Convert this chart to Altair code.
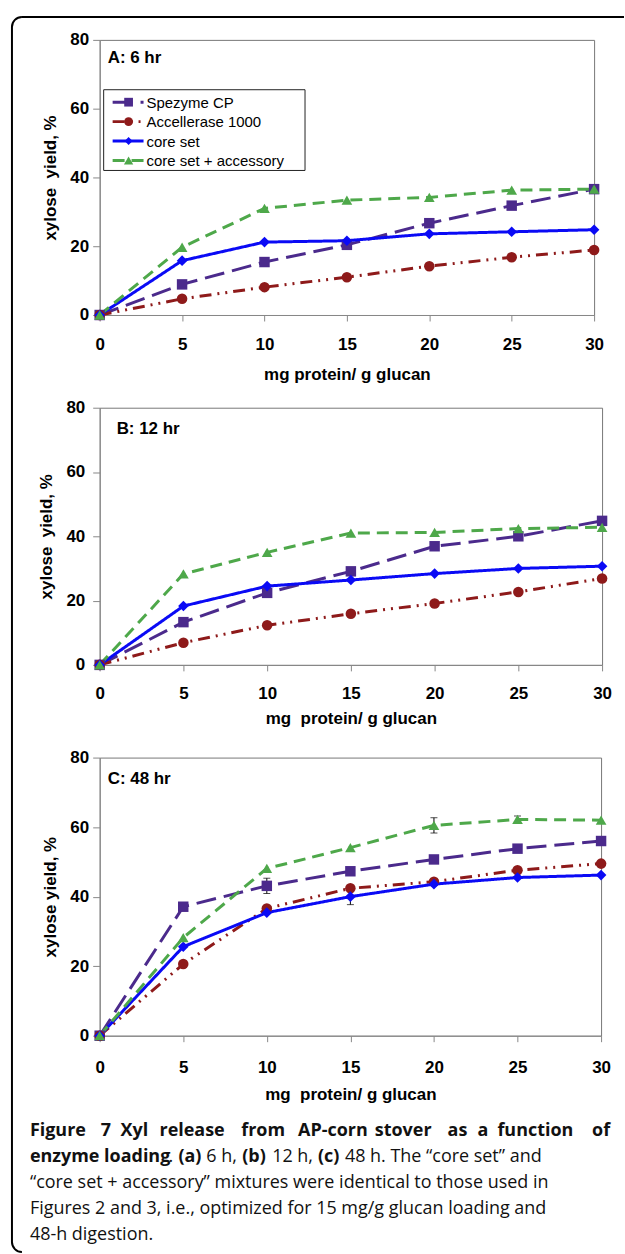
import altair as alt
import pandas as pd

# ---------------- data ----------------
loading = [0, 5, 10, 15, 20, 25, 30]
series = ["Spezyme CP", "Accellerase 1000", "core set", "core set + accessory"]

spezyme_6h = [0, 8.9, 15.4, 20.4, 26.7, 31.8, 36.6]
accellerase_6h = [0, 4.7, 8.1, 11.0, 14.2, 16.8, 18.9]
core_6h = [0, 15.8, 21.2, 21.6, 23.6, 24.2, 24.8]
core_acc_6h = [0, 19.7, 31.0, 33.4, 34.2, 36.3, 36.6]

spezyme_12h = [0, 13.3, 22.4, 29.1, 36.9, 40.0, 44.8]
accellerase_12h = [0, 6.9, 12.3, 15.9, 19.1, 22.7, 26.9]
core_12h = [0, 18.3, 24.5, 26.4, 28.4, 30.0, 30.7]
core_acc_12h = [0, 28.3, 35.0, 41.0, 41.2, 42.4, 42.8]

spezyme_48h = [0, 37.1, 43.1, 47.3, 50.7, 53.8, 56.0]
accellerase_48h = [0, 20.6, 36.6, 42.4, 44.3, 47.6, 49.5]
core_48h = [0, 25.6, 35.4, 40.0, 43.6, 45.5, 46.2]
core_acc_48h = [0, 28.2, 48.1, 54.1, 60.5, 62.2, 62.0]

err_spezyme_48h = [0, 0, 2.2, 0, 0, 0, 0]
err_accellerase_48h = [0, 0, 0, 0, 0, 0, 0]
err_core_48h = [0, 0, 0, 2.3, 0, 0, 0]
err_core_acc_48h = [0, 0, 0, 0, 2.2, 1.0, 0]

panel_titles = ["A: 6 hr", "B: 12 hr", "C: 48 hr"]
x_titles = ["mg protein/ g glucan", "mg\u00a0 protein/ g glucan", "mg\u00a0 protein/ g glucan"]
y_titles = ["xylose\u00a0 yield, %", "xylose\u00a0 yield, %", "xylose yield, %"]

caption_line1 = ["Figure", "7", "Xyl", "release", "from", "AP-corn", "stover", "as", "a", "function", "of"]
caption_line2 = [("enzyme loading", True), (".", False), ("(a)", True), ("6 h,", False), ("(b)", True),
                 ("12 h,", False), ("(c)", True), ("48 h. The \u201ccore set\u201d and", False)]
caption_rest = ["\u201ccore set + accessory\u201d mixtures were identical to those used in",
                "Figures 2 and 3, i.e., optimized for 15 mg/g glucan loading and",
                "48-h digestion."]

# ---------------- styles ----------------
colors = ["#4B2A8C", "#8E1A1A", "#0A0AF5", "#4EA84A"]
dashes = [[20, 8], [12, 6, 2, 6, 2, 6], [1, 0], [12, 7]]
shapes = ["square", "circle", "diamond", "triangle-up"]
sizes = [110, 115, 90, 125]

AXFONT = "Liberation Sans"
CAPFONT = "Open Sans"
one = pd.DataFrame({"k": [0]})

# caption word / segment positions (page px)
line1_x = [29, 100, 120, 159, 241, 298, 375, 448, 478, 498, 593]
line2_x = [29, 168, 178, 206, 242, 272, 318, 345]
cap_baselines = [1137, 1163, 1189, 1215, 1241]

LEFT = 99
GAP = 93
panels = [
    dict(top=37, w=496, h=276, lab=(107, 60), xlp=16, xtp=14, ylp=4,
         vals=[spezyme_6h, accellerase_6h, core_6h, core_acc_6h], errs=None),
    dict(top=406, w=504, h=258, lab=(116, 432), xlp=15, xtp=9, ylp=8,
         vals=[spezyme_12h, accellerase_12h, core_12h, core_acc_12h], errs=None),
    dict(top=757, w=503, h=279, lab=(107, 783), xlp=18, xtp=11, ylp=4,
         vals=[spezyme_48h, accellerase_48h, core_48h, core_acc_48h],
         errs=[err_spezyme_48h, err_accellerase_48h, err_core_48h, err_core_acc_48h]),
]


def page_rect(p, x1, y1, x2, y2, **kw):
    T = p["top"]
    return alt.Chart(one).mark_rect(**kw).encode(
        x=alt.value(x1 - LEFT), x2=alt.value(x2 - LEFT), y=alt.value(y1 - T), y2=alt.value(y2 - T))


def page_text(p, x, y, s, **kw):
    T = p["top"]
    return alt.Chart(one).mark_text(align="left", baseline="alphabetic", **kw).encode(
        x=alt.value(x - LEFT), y=alt.value(y - T), text=alt.value(s))


def page_arc(p, cx, cy, t1, t2):
    return alt.Chart(one).mark_arc(radius=11, radius2=9, theta=t1, theta2=t2, color="black").encode(
        x=alt.value(cx - LEFT), y=alt.value(cy - p["top"]))


def build_panel(i):
    p = panels[i]
    T = p["top"]
    rows = []
    for si, name in enumerate(series):
        for xv, yv in zip(loading, p["vals"][si]):
            rows.append({"loading": xv, "yield": yv, "series": name, "idx": si})
    df = pd.DataFrame(rows)

    xaxis = alt.Axis(values=loading, title=x_titles[i], labelPadding=p["xlp"], titlePadding=p["xtp"],
                     tickSize=6, labelFlush=False)
    yaxis = alt.Axis(values=[0, 20, 40, 60, 80], title=y_titles[i], labelPadding=p["ylp"],
                     titlePadding=10, tickSize=7)
    X = alt.X("loading:Q", scale=alt.Scale(domain=[0, 30], nice=False, zero=False), axis=xaxis)
    Y = alt.Y("yield:Q", scale=alt.Scale(domain=[0, 80], nice=False), axis=yaxis)
    col = alt.Color("series:N", scale=alt.Scale(domain=series, range=colors), legend=None)

    layers = []
    if i == 0:
        # invisible anchor covering the whole page, and the page frame
        layers.append(page_rect(p, 0, 0, 625, 1254, fill="white", opacity=0))
        layers.append(page_rect(p, 10, 24, 12, 1243, fill="black"))
        layers.append(page_rect(p, 21, 13, 625, 15, fill="black"))
        layers.append(page_arc(p, 21, 24, 4.712389, 6.283185))
        layers.append(page_arc(p, 21, 1243, 3.141593, 4.712389))

    layers.append(alt.Chart(df).mark_line(strokeWidth=3).encode(
        x=X, y=Y, color=col,
        strokeDash=alt.StrokeDash("series:N", scale=alt.Scale(domain=series, range=dashes), legend=None),
        detail="series:N"))

    if p["errs"] is not None:
        erows, crows = [], []
        for si, name in enumerate(series):
            for xv, yv, ev in zip(loading, p["vals"][si], p["errs"][si]):
                if ev > 0:
                    erows.append({"loading": xv, "yield": yv - ev, "yield2": yv + ev})
                    crows.append({"loading": xv, "yield": yv - ev})
                    crows.append({"loading": xv, "yield": yv + ev})
        edf = pd.DataFrame(erows)
        cdf = pd.DataFrame(crows)
        layers.append(alt.Chart(edf).mark_rule(color="black", strokeWidth=1).encode(
            x=X, y=Y, y2="yield2:Q"))
        layers.append(alt.Chart(cdf).mark_tick(orient="horizontal", size=7, thickness=1,
                                               color="black").encode(x=X, y=Y))

    layers.append(alt.Chart(df).mark_point(filled=True, opacity=1).encode(
        x=X, y=Y, color=col,
        shape=alt.Shape("series:N", scale=alt.Scale(domain=series, range=shapes), legend=None),
        size=alt.Size("series:N", scale=alt.Scale(domain=series, range=sizes), legend=None),
        order=alt.Order("idx:Q")))

    # panel label
    layers.append(page_text(p, p["lab"][0], p["lab"][1], panel_titles[i], font=AXFONT,
                            fontSize=17, fontWeight="bold", color="black"))

    if i == 0:
        # legend box
        layers.append(page_rect(p, 103, 87, 305, 168, fill="white", stroke="#222", strokeWidth=1))
        ys = [99.5, 119, 138.5, 158]
        for si, name in enumerate(series):
            yy = ys[si] - T
            layers.append(alt.Chart(one).mark_rule(color=colors[si], strokeWidth=3,
                                                   strokeDash=dashes[si]).encode(
                x=alt.value(112 - LEFT), x2=alt.value(143 - LEFT), y=alt.value(yy)))
            layers.append(alt.Chart(one).mark_point(filled=True, opacity=1, shape=shapes[si],
                                                    size=sizes[si] * 0.7, color=colors[si]).encode(
                x=alt.value(128 - LEFT), y=alt.value(yy)))
            layers.append(alt.Chart(one).mark_text(align="left", baseline="middle", font=AXFONT,
                                                   fontSize=15, color="black").encode(
                x=alt.value(146 - LEFT), y=alt.value(yy + 0.5), text=alt.value(name)))

    if i == 2:
        for w, xw in zip(caption_line1, line1_x):
            layers.append(page_text(p, xw, cap_baselines[0], w, font=CAPFONT, fontSize=18,
                                    fontWeight="bold", color="#111"))
        for (s, b), xs in zip(caption_line2, line2_x):
            kw = dict(font=CAPFONT, fontSize=18, color="#111")
            if b:
                kw["fontWeight"] = "bold"
            layers.append(page_text(p, xs, cap_baselines[1], s, **kw))
        for s, yb in zip(caption_rest, cap_baselines[2:]):
            layers.append(page_text(p, 29, yb, s, font=CAPFONT, fontSize=18, color="#111"))

    return alt.layer(*layers).properties(width=p["w"], height=p["h"])


chart = alt.vconcat(build_panel(0), build_panel(1), build_panel(2), spacing=GAP,
                    bounds="flush").properties(
    padding=0
).configure_axis(
    labelFont=AXFONT, labelFontSize=17, labelFontWeight="bold", labelColor="black",
    titleFont=AXFONT, titleFontSize=17, titleFontWeight="bold", titleColor="black",
    domainColor="#888", tickColor="#888", grid=False
).configure_view(stroke="#777", strokeWidth=1)

chart.save("out.html", embed_options={"renderer": "svg", "actions": False})
